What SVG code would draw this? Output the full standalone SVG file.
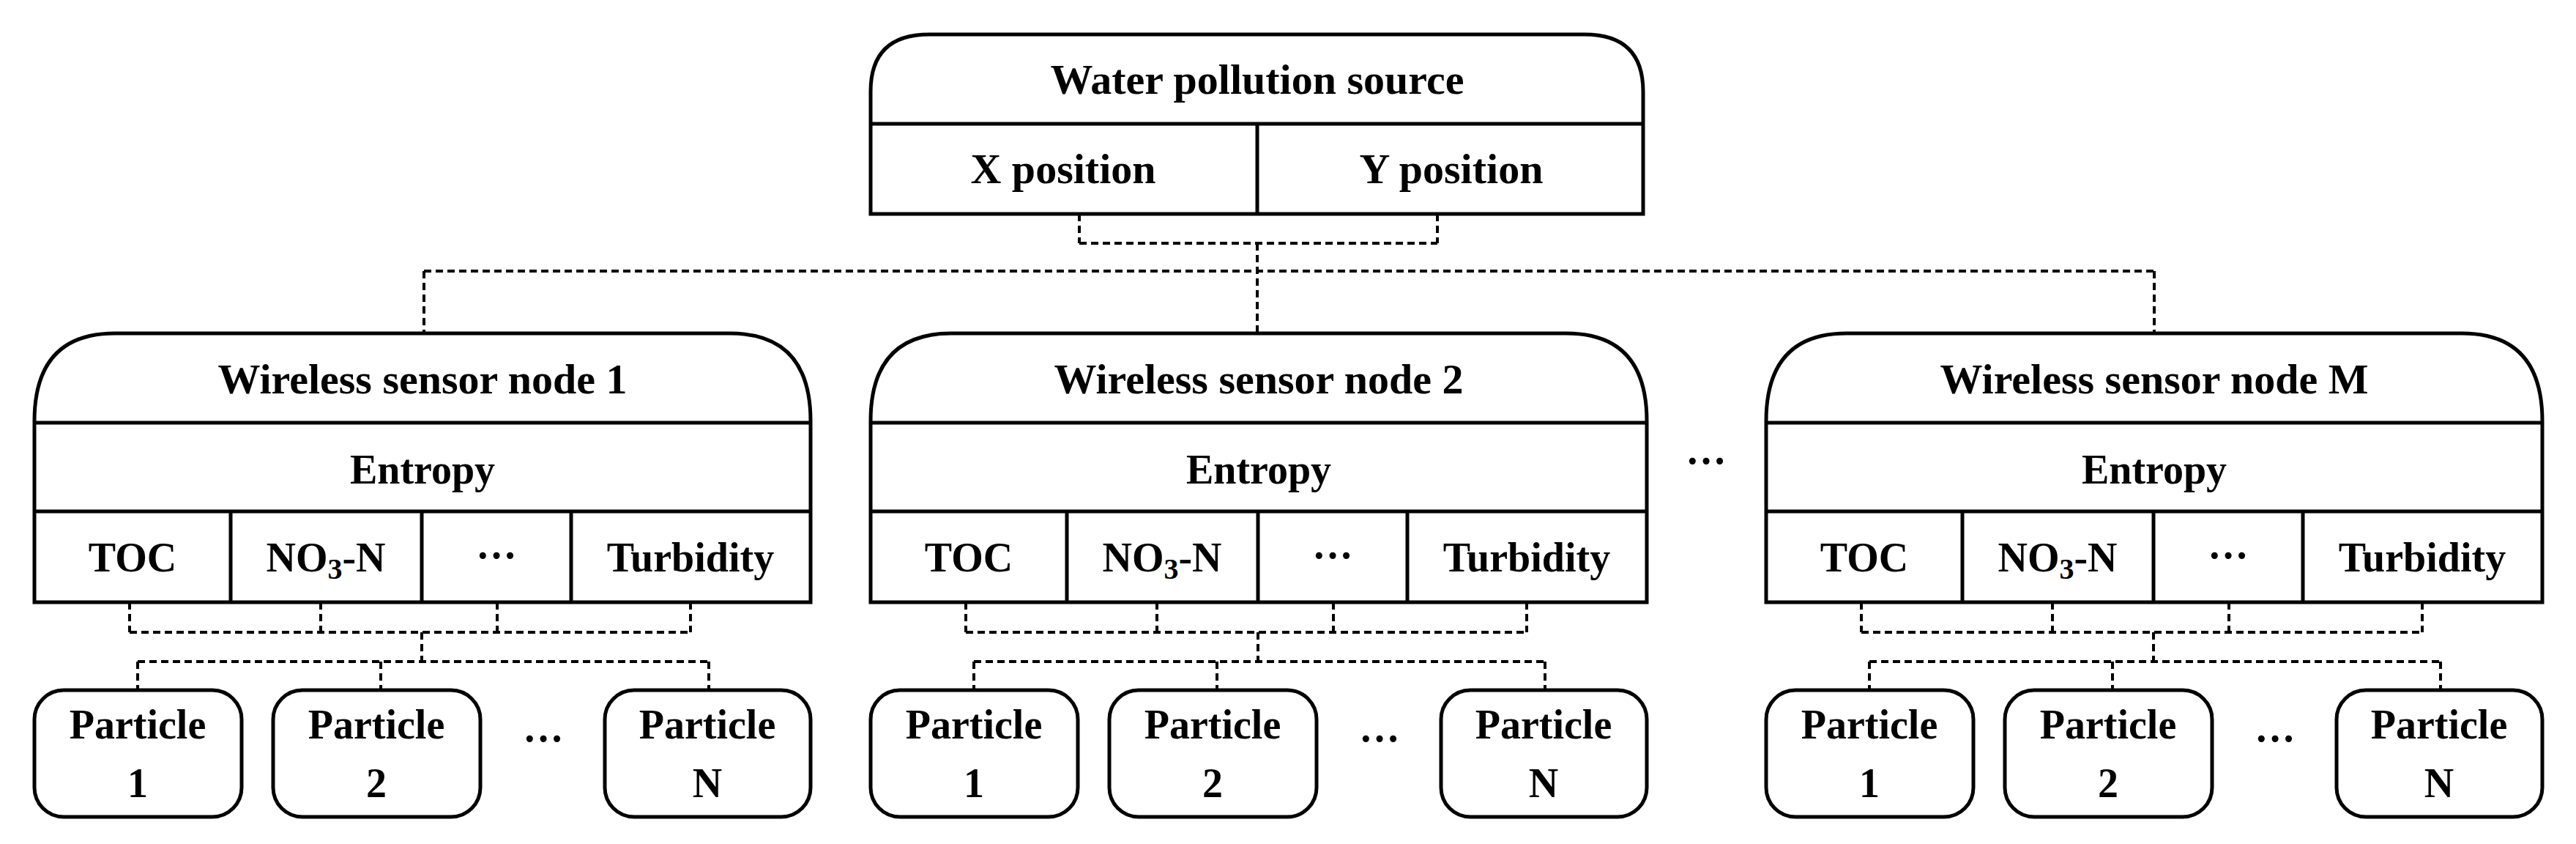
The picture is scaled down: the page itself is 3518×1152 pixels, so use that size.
<svg xmlns="http://www.w3.org/2000/svg" width="3518" height="1152" viewBox="0 0 3518 1152">
<style>
.b{fill:#fff;stroke:#000;stroke-width:5}
.l{stroke:#000;stroke-width:5;fill:none}
.d{stroke:#000;stroke-width:4;fill:none;stroke-dasharray:10 6}
text{font-family:"Liberation Serif","Times New Roman",serif;font-weight:bold;fill:#000;text-anchor:middle}
.t{font-size:58px}
.c{font-size:56px}
</style>
<defs>
<g id="sn">
<path class="b" d="M0,367 V120 Q0,0 110,0 H950 Q1060,0 1060,120 V367 Z"/>
<line class="l" x1="0" y1="122" x2="1060" y2="122"/>
<line class="l" x1="0" y1="243" x2="1060" y2="243"/>
<line class="l" x1="268" y1="243" x2="268" y2="367"/>
<line class="l" x1="529" y1="243" x2="529" y2="367"/>
<line class="l" x1="733" y1="243" x2="733" y2="367"/>
<text class="c" x="530" y="205">Entropy</text>
<text class="c" x="134" y="325">TOC</text>
<text class="c" x="398" y="325">NO<tspan font-size="40" dy="10">3</tspan><tspan dy="-10">-N</tspan></text>
<text class="c" x="631" y="322">···</text>
<text class="c" x="896" y="325">Turbidity</text>
<path class="d" d="M130,367 V408 M391,367 V408 M632,367 V408 M896,367 V408 M130,408 H896 M529,408 V448 M141,448 H921 M141,448 V487 M473,448 V487 M921,448 V487"/>
<rect class="b" x="0" y="487" width="283" height="173" rx="40"/>
<rect class="b" x="326" y="487" width="283" height="173" rx="40"/>
<rect class="b" x="779" y="487" width="281" height="173" rx="40"/>
<text class="c" x="141" y="553">Particle</text><text class="c" x="141" y="633">1</text>
<text class="c" x="467" y="553">Particle</text><text class="c" x="467" y="633">2</text>
<text class="c" x="919" y="553">Particle</text><text class="c" x="919" y="633">N</text>
<text class="c" x="695" y="572">···</text>
</g>
</defs>
<g id="connectors">
<path class="d" d="M1474,292 V332 M1963,292 V332 M1474,332 H1963 M1717,332 V455 M579,370 H2942 M579,370 V455 M2942,370 V455"/>
</g>
<g id="source">
<path class="b" d="M1189,292 V125 Q1189,47 1269,47 H2164 Q2244,47 2244,125 V292 Z"/>
<line class="l" x1="1189" y1="169" x2="2244" y2="169"/>
<line class="l" x1="1717" y1="169" x2="1717" y2="292"/>
<text class="t" x="1717" y="128">Water pollution source</text>
<text class="t" x="1452" y="250">X position</text>
<text class="t" x="1982" y="250">Y position</text>
</g>
<g id="node1"><use href="#sn" x="47" y="455"/><text class="t" x="577" y="537">Wireless sensor node 1</text></g>
<g id="node2"><use href="#sn" x="1189" y="455"/><text class="t" x="1719" y="537">Wireless sensor node 2</text></g>
<g id="nodeM"><use href="#sn" x="2412" y="455"/><text class="t" x="2942" y="537">Wireless sensor node M</text></g>
<text class="c" x="2330" y="648">···</text>
</svg>
